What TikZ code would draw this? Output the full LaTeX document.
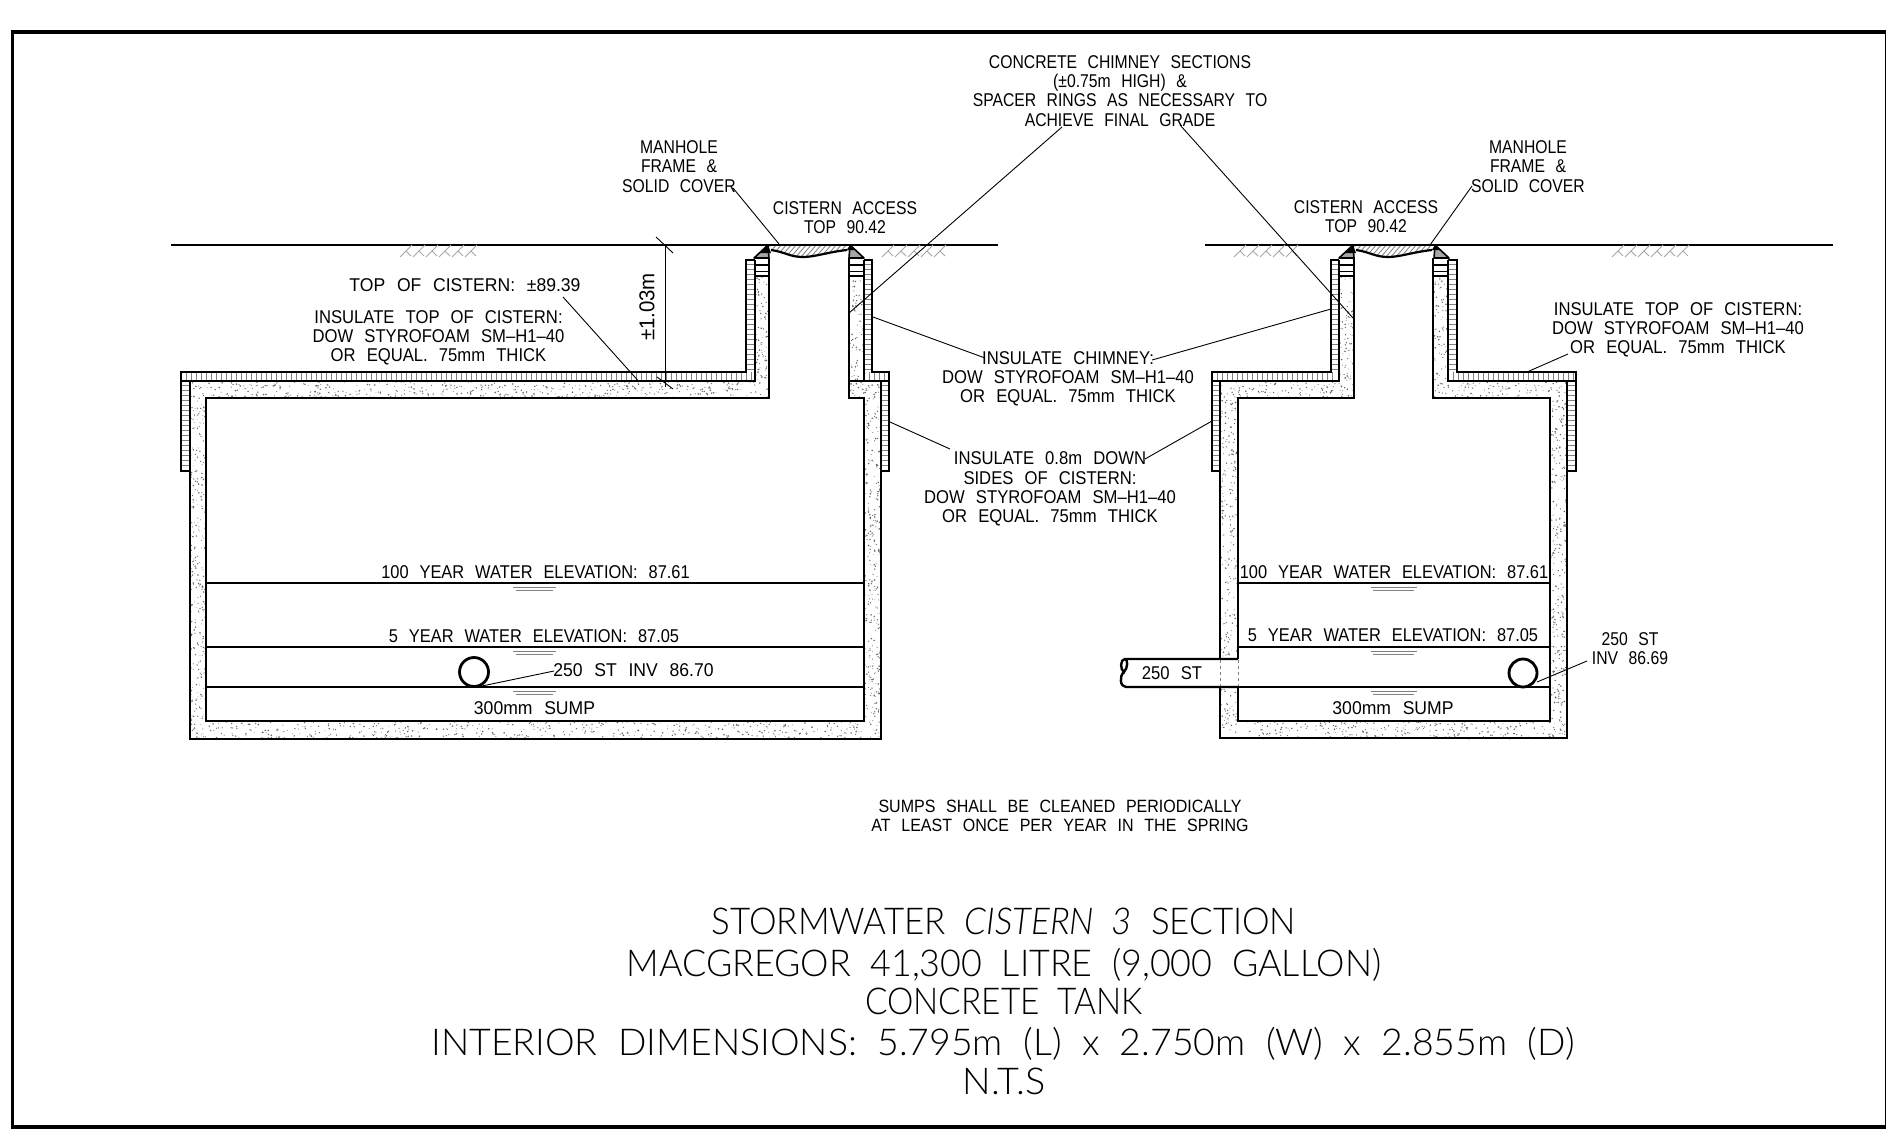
\documentclass[tikz,border=0pt]{standalone}
\usepackage{graphicx}
\usepackage{fontspec}
\setmainfont{Liberation Sans}[FakeStretch=0.90,WordSpace=2.4]
\newfontfamily\narrowf{Liberation Sans}[FakeStretch=0.85,WordSpace=2.4]
\newfontfamily\widef{Liberation Sans}[FakeStretch=0.95,WordSpace=2.4]
\newfontfamily\bigf{Lato}[UprightFont=* Light,ItalicFont=* Light Italic,FakeStretch=0.92,WordSpace=2.0]
\tikzset{
  lbl/.style={inner sep=0pt,align=center,font=\fontsize{18.5}{19.2}\selectfont},
  lbln/.style={lbl,font=\narrowf\fontsize{18.5}{19.2}\selectfont},
  lblw/.style={lbl,font=\widef\fontsize{18.5}{19.2}\selectfont},
  big/.style={inner sep=0pt,align=center,font=\bigf\fontsize{37}{37}\selectfont},
  wall/.style={line width=2.4pt,line join=miter},
  ins/.style={line width=2pt},
  tick/.style={line width=.6pt,gray},
  leader/.style={line width=.9pt},
  water/.style={line width=1.4pt},
  wmark/.style={line width=.7pt,gray},
  soil/.style={line width=1pt,gray!70},
}
% stipple dots in a rectangle
\newcommand{\stip}[5]{%
  \foreach \i in {1,...,#5}{%
    \pgfmathsetmacro\px{#1+rnd*(#3-#1)}%
    \pgfmathsetmacro\py{#2+rnd*(#4-#2)}%
    \pgfmathsetmacro\pr{0.35+0.55*rnd}%
    \fill[black!60] (\px,\py) circle[radius=\pr];
  }}
% ticks in insulation
\newcommand{\vticks}[3]{\foreach \t in {#1,#2,...,#3}{\draw[tick] (\t,372) -- (\t,381);}}
\newcommand{\hticks}[5]{\foreach \t in {#1,#2,...,#3}{\draw[tick] (#4,\t) -- (#5,\t);}}
% soil hatch at grade
\newcommand{\soilhatch}[2]{%
  \foreach \s in {0,13,...,#2}{%
    \draw[soil] (#1+\s+12,245) -- (#1+\s+0,257);
    \draw[soil] (#1+\s+6,251) -- (#1+\s+11,256);
  }}
% manhole frame, cover and rings at the top of a chimney
\newcommand{\manhole}{%
  \begin{scope}
    \clip (769,245) -- (849,245) -- (849,250) -- (825,254) -- (803,257) -- (785,254) -- (771,250) -- cycle;
    \foreach \s in {0,5,...,100}{\draw[line width=.8pt,gray] (760+\s,258) -- (772+\s,244);}
  \end{scope}
  \draw[line width=2.2pt] (768,245) -- (850,245);
  \draw[line width=2.2pt] (771,250) .. controls (785,252) and (790,257) .. (803,257) .. controls (815,257) and (828,252) .. (847,250);
  \filldraw[fill=gray!70,line width=1.6pt,line join=round] (768,245) -- (754,258) -- (769,258) -- cycle;
  \filldraw[fill=gray!70,line width=1.6pt,line join=round] (850,245) -- (864,258) -- (849,258) -- cycle;
  \fill (768,245) -- (760,253) -- (771,253) -- cycle;
  \fill (850,245) -- (855,250) -- (847,250) -- cycle;
  \draw[line width=1.1pt] (755,265) -- (769,265) (755,271.5) -- (769,271.5) (755,276) -- (769,276);
  \draw[line width=1.1pt] (849,265) -- (864,265) (849,271.5) -- (864,271.5) (849,276) -- (864,276);
}
\begin{document}
\begin{tikzpicture}[x=1pt,y=-1pt]
\useasboundingbox (0,0) rectangle (1886,1137);
\pgfmathsetseed{4711}
% sheet frame
\draw[line width=3.6pt] (12.5,32) -- (1890,32);
\draw[line width=3.6pt,line cap=rect] (12.5,32) -- (12.5,1127) -- (1890,1127);
\draw[line width=1pt] (1885.5,32) -- (1885.5,1127);

% grade lines
\draw[line width=1.6pt] (171,245) -- (998,245);
\draw[line width=1.6pt] (1205,245) -- (1833,245);
\soilhatch{400}{65}
\soilhatch{882}{52}
\soilhatch{1234}{52}
\soilhatch{1612}{65}

% ---------- left tank: stipple
\stip{190}{382}{769}{398}{480}
\stip{190}{398}{206}{739}{300}
\stip{864}{398}{881}{739}{300}
\stip{206}{721}{864}{739}{540}
\stip{755}{276}{769}{381}{90}
\stip{849}{276}{864}{398}{90}
\stip{864}{382}{881}{398}{14}
% left tank: insulation ticks
\vticks{186}{191}{752}
\vticks{869}{874}{887}
\hticks{264}{269}{370}{747}{754}
\hticks{264}{269}{370}{865}{871}
\hticks{385}{390}{469}{182}{189}
\hticks{385}{390}{469}{882}{888}
% left tank: walls
\draw[wall] (755,260) -- (755,381) -- (190,381) -- (190,739) -- (881,739) -- (881,381) -- (849,381);
\draw[wall] (864,381) -- (864,260);
\draw[wall] (769,258) -- (769,398) -- (206,398) -- (206,721) -- (864,721) -- (864,398) -- (849,398) -- (849,258);
\draw[ins] (755,260) -- (746,260) -- (746,372) -- (181,372) -- (181,471) -- (190,471);
\draw[ins] (181,381) -- (190,381);
\draw[ins] (864,260) -- (872,260) -- (872,372) -- (889,372) -- (889,471) -- (881,471);
\draw[ins] (881,381) -- (889,381);
\manhole
% left tank: water levels
\draw[water] (206,583) -- (864,583);
\draw[water] (206,647) -- (864,647);
\draw[water] (206,687) -- (864,687);
\foreach \y in {583,647,687}{
  \draw[wmark] (513,\y+4) -- (556,\y+4);
  \draw[wmark] (516,\y+7) -- (553,\y+7);
}
\draw[line width=2.8pt,fill=white] (474,672) circle[radius=14.5];

% ---------- right tank: stipple
\stip{1220}{382}{1354}{398}{110}
\stip{1220}{398}{1238}{659}{230}
\stip{1220}{687}{1238}{739}{50}
\stip{1550}{398}{1567}{739}{300}
\stip{1238}{721}{1550}{739}{260}
\stip{1433}{382}{1567}{398}{110}
\stip{1339}{276}{1354}{381}{80}
\stip{1433}{276}{1448}{381}{80}
% right tank: insulation ticks
\vticks{1217}{1222}{1336}
\vticks{1453}{1458}{1573}
\hticks{264}{269}{370}{1332}{1338}
\hticks{264}{269}{370}{1449}{1456}
\hticks{385}{390}{469}{1213}{1219}
\hticks{385}{390}{469}{1568}{1575}
% right tank: walls
\draw[wall] (1339,260) -- (1339,381) -- (1220,381) -- (1220,659);
\draw[wall] (1220,687) -- (1220,738) -- (1567,738) -- (1567,381) -- (1448,381) -- (1448,260);
\draw[wall] (1354,258) -- (1354,398) -- (1238,398) -- (1238,659);
\draw[wall] (1238,687) -- (1238,721) -- (1550,721) -- (1550,398) -- (1433,398) -- (1433,258);
\draw[ins] (1339,260) -- (1331,260) -- (1331,372) -- (1212,372) -- (1212,471) -- (1220,471);
\draw[ins] (1212,381) -- (1220,381);
\draw[ins] (1448,260) -- (1457,260) -- (1457,372) -- (1576,372) -- (1576,471) -- (1567,471);
\draw[ins] (1567,381) -- (1576,381);
\begin{scope}[xshift=585pt]\manhole\end{scope}
% right tank: water levels
\draw[water] (1238,583) -- (1550,583);
\draw[water] (1238,647) -- (1550,647);
\draw[water] (1238,687) -- (1550,687);
\foreach \y in {583,647,687}{
  \draw[wmark] (1371,\y+4) -- (1417,\y+4);
  \draw[wmark] (1373,\y+7) -- (1414,\y+7);
}
\draw[line width=2.8pt,fill=white] (1523,673) circle[radius=14];
% right tank: storm pipe
\draw[line width=2.4pt] (1238,659) -- (1125,659) .. controls (1120,659) and (1120,670) .. (1124,672) .. controls (1128,668) and (1128,659) .. (1125,659);
\draw[line width=2.4pt] (1124,672) .. controls (1119,676) and (1120,687) .. (1126,687) -- (1238,687);
\draw[line width=.6pt,gray,dashed] (1220,660) -- (1220,686) (1238,660) -- (1238,686);

% ---------- labels
\node[lbln] (chim) at (1120,91) {CONCRETE CHIMNEY SECTIONS\\(±0.75m HIGH) \&\\SPACER RINGS AS NECESSARY TO\\ACHIEVE FINAL GRADE};
\node[lbln] (mhL) at (679,166.5) {MANHOLE\\FRAME \&\\SOLID COVER};
\node[lbln] (mhR) at (1528,166.5) {MANHOLE\\FRAME \&\\SOLID COVER};
\node[lbln] (caL) at (845,217.5) {CISTERN ACCESS\\TOP 90.42};
\node[lbln] (caR) at (1366,217) {CISTERN ACCESS\\TOP 90.42};
\node[lblw] (topc) at (465,285) {TOP OF CISTERN: ±89.39};
\node[lbl] (insL) at (438.5,338) {INSULATE TOP OF CISTERN:\\DOW STYROFOAM SM–H1–40\\OR EQUAL. 75mm THICK};
\node[lbl] (insR) at (1678,330) {INSULATE TOP OF CISTERN:\\DOW STYROFOAM SM–H1–40\\OR EQUAL. 75mm THICK};
\node[lbl] (insC) at (1068,378.5) {INSULATE CHIMNEY:\\DOW STYROFOAM SM–H1–40\\OR EQUAL. 75mm THICK};
\node[lbl] (insS) at (1050,489) {INSULATE 0.8m DOWN\\SIDES OF CISTERN:\\DOW STYROFOAM SM–H1–40\\OR EQUAL. 75mm THICK};
\node[lblw,rotate=90,font=\widef\fontsize{21.5}{22}\selectfont] (dim) at (647,307) {±1.03m};
\node[lbl] (w100L) at (535.5,572) {\scalebox{.985}[1]{100 YEAR WATER ELEVATION: 87.61}};
\node[lbl] (w5L) at (534,636) {\scalebox{.985}[1]{5 YEAR WATER ELEVATION: 87.05}};
\node[lblw] (invL) at (633.5,670) {250 ST INV 86.70};
\node[lblw] (sumpL) at (534.5,708) {300mm SUMP};
\node[lbl] (w100R) at (1394,572) {\scalebox{.985}[1]{100 YEAR WATER ELEVATION: 87.61}};
\node[lbl] (w5R) at (1393,635) {\scalebox{.985}[1]{5 YEAR WATER ELEVATION: 87.05}};
\node[lbl] (st) at (1172,673) {250 ST};
\node[lbln] (invR) at (1630,648.5) {250 ST\\INV 86.69};
\node[lblw] (sumpR) at (1393,708) {300mm SUMP};
\node[lbl,font=\fontsize{17.8}{19.2}\selectfont] (note) at (1060,816) {SUMPS SHALL BE CLEANED PERIODICALLY\\AT LEAST ONCE PER YEAR IN THE SPRING};
\node[big] (t1) at (1004,921) {\scalebox{1.025}[1]{STORMWATER {\itshape CISTERN 3} SECTION}};
\node[big] (t2) at (1004,964.5) {\scalebox{1.054}[1]{MACGREGOR 41,300 LITRE (9,000 GALLON)}};
\node[big] (t3) at (1004,1001) {\scalebox{.98}[1]{CONCRETE TANK}};
\node[big] (t4) at (1003,1043.5) {\scalebox{1.10}[1]{INTERIOR DIMENSIONS: 5.795m (L) x 2.750m (W) x 2.855m (D)}};
\node[big] (t5) at (1004,1081) {\scalebox{1.11}[1]{N.T.S}};

% ---------- leaders
\coordinate (a1) at (1062,127); \coordinate (a2) at (849,313);
\coordinate (b1) at (1180,125); \coordinate (b2) at (1353,318);
\coordinate (c1) at (733,188);  \coordinate (c2) at (779,244);
\coordinate (d1) at (1472,186); \coordinate (d2) at (1430,245);
\coordinate (e1) at (563,297);  \coordinate (e2) at (637.5,380);
\coordinate (f1) at (1568,354); \coordinate (f2) at (1527,372);
\coordinate (g1) at (985,358);  \coordinate (g2) at (873,317);
\coordinate (h1) at (1152,360); \coordinate (h2) at (1331,309);
\coordinate (i1) at (950,449);  \coordinate (i2) at (890,422);
\coordinate (j1) at (1145,459); \coordinate (j2) at (1212,421);
\coordinate (k1) at (482,686);  \coordinate (k2) at (554,671);
\coordinate (l1) at (1537,682); \coordinate (l2) at (1587,661);
\foreach \p/\q in {a1/a2,b1/b2,c1/c2,d1/d2,e1/e2,f1/f2,g1/g2,h1/h2,i1/i2,j1/j2,k1/k2,l1/l2}{
  \draw[leader] (\p) -- (\q);
}
% dimension line
\coordinate (m1) at (665,245); \coordinate (m2) at (665,387);
\coordinate (n1) at (656,237); \coordinate (n2) at (673,253);
\coordinate (o1) at (657,377); \coordinate (o2) at (673,389);
\draw[leader] (m1) -- (m2);
\draw[leader] (n1) -- (n2);
\draw[leader] (o1) -- (o2);
\end{tikzpicture}
\end{document}
